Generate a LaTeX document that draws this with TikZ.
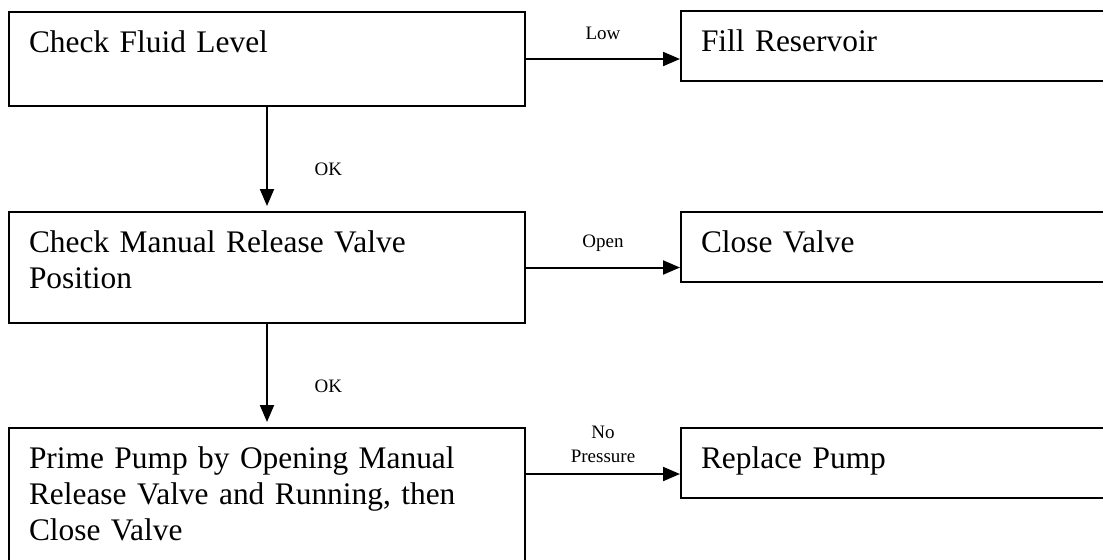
\documentclass[tikz,border=0pt]{standalone}
\usepackage{fontspec}
\setmainfont{Liberation Serif}
\usetikzlibrary{arrows.meta}

\tikzset{
  stepbox/.style={draw, line width=1pt, anchor=north west, align=left,
    inner xsep=10pt, inner ysep=0pt, text height=20pt,
    font=\fontsize{15.7}{18}\selectfont},
  leftbox/.style={stepbox, text width=238pt},
  rightbox/.style={stepbox, text width=200pt, text depth=15pt},
  flow/.style={line width=1pt, -{Triangle[length=8.5pt,width=7pt]}},
  cond/.style={font=\fontsize{9.5}{12}\selectfont, align=center},
  condline/.style={cond, text depth=0pt},
}

\begin{document}
\begin{tikzpicture}[x=0.5pt, y=-0.5pt]
  \clip (0,0) rectangle (1103,559);

  % steps on the left, actions on the right
  \node[leftbox, text depth=27pt] (fluid) at (8,11) {Check Fluid Level};
  \node[rightbox] (fill) at (680,10) {Fill Reservoir};
  \node[leftbox, text depth=35.5pt] (valve) at (8,211) {Check Manual Release Valve\\Position};
  \node[rightbox] (close) at (680,211) {Close Valve};
  \node[leftbox, text depth=52pt] (prime) at (8,427)
    {Prime Pump by Opening Manual\\Release Valve and Running, then\\Close Valve};
  \node[rightbox] (pump) at (680,427) {Replace Pump};

  % conditions
  \draw[flow] (fluid.east) -- node[condline, above=6pt] {Low} (fluid.east -| fill.west);
  \draw[flow] (valve.east) -- node[condline, above=6pt] {Open} (valve.east -| close.west);
  \draw[flow] ([yshift=-23.5pt]prime.north east) -- node[cond, above=2pt] {No\\Pressure}
    ([yshift=-23.5pt]prime.north east -| pump.west);
  \draw[flow, shorten >=2.5pt] (fluid.south) -- node[condline, right=20pt, pos=0.6] {OK} (valve.north);
  \draw[flow, shorten >=2.5pt] (valve.south) -- node[condline, right=20pt, pos=0.6] {OK} (prime.north);
\end{tikzpicture}
\end{document}
